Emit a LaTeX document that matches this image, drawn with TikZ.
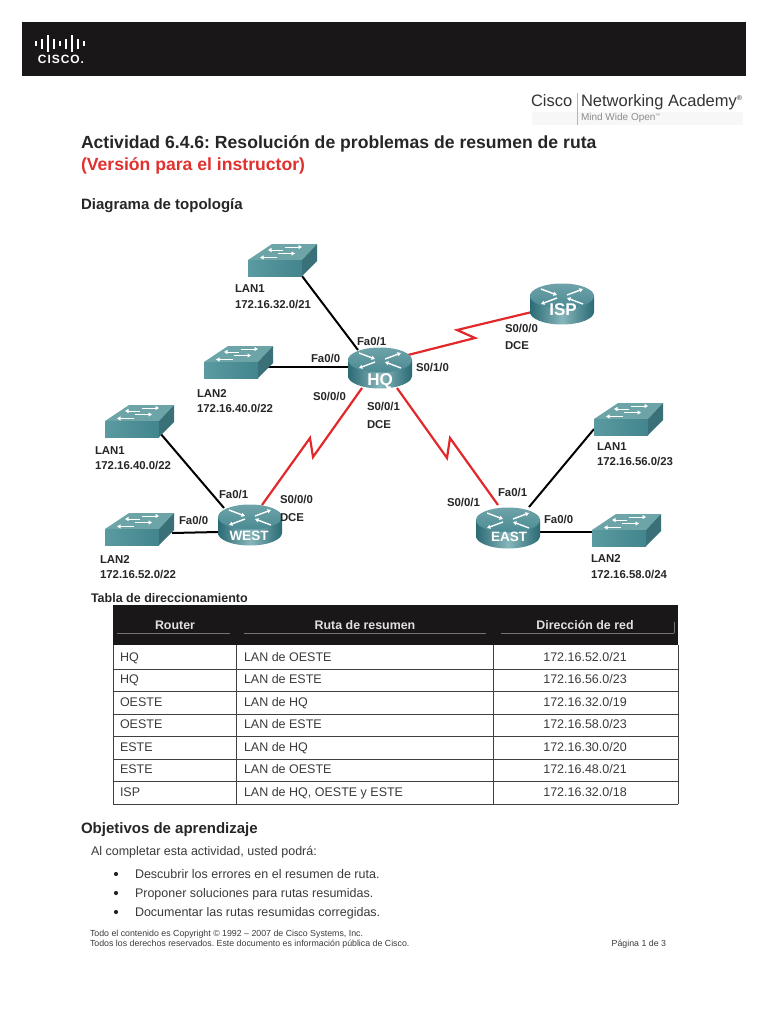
\documentclass[tikz,border=0pt]{standalone}
\usepackage{fontspec}
\setmainfont{Liberation Sans}
\frenchspacing
\usetikzlibrary{arrows.meta,backgrounds,calc}
\definecolor{ink}{HTML}{262626}
\definecolor{body}{HTML}{3A3A3A}
\definecolor{cbar}{HTML}{1A1718}
\definecolor{redlink}{HTML}{E2282B}
\definecolor{redtxt}{HTML}{E0312F}
\definecolor{rdark}{HTML}{2B6A75}
\definecolor{rlight}{HTML}{86B6BA}
\definecolor{rtop}{HTML}{6FA3A9}
\definecolor{rtopd}{HTML}{4A8A93}
\definecolor{stop}{HTML}{6DA4A8}
\definecolor{sfront}{HTML}{5A9AA0}
\definecolor{sfrontd}{HTML}{43858D}
\definecolor{sside}{HTML}{3A7178}
\tikzset{
  txt/.style={anchor=base west,inner sep=0pt,outer sep=0pt,text=ink},
  h1/.style={txt,font=\fontsize{17.6}{19}\bfseries},
  h2/.style={txt,font=\fontsize{15}{17}\bfseries},
  lab/.style={txt,font=\fontsize{11.4}{13}\bfseries},
  tb/.style={txt,text=body,font=\fontsize{12.5}{14}\selectfont},
  tbc/.style={tb,anchor=base},
  th/.style={anchor=base,inner sep=0pt,text=black!12,font=\fontsize{12.4}{14}\bfseries},
  para/.style={txt,text=body,font=\fontsize{12.5}{14}\selectfont},
  foot/.style={txt,text=body,font=\fontsize{8.8}{10}\selectfont},
  rtxt/.style={anchor=center,inner sep=0pt,text=white,font=\fontsize{17}{18}\bfseries},
  rtxts/.style={rtxt,font=\fontsize{13.5}{15}\bfseries},
  devbox/.style={inner sep=0pt,minimum width=60pt,minimum height=30pt},
  wire/.style={draw=black,line width=2pt},
  serial/.style={draw=redlink,line width=2.2pt,line join=miter},
  gridl/.style={draw=black!75,line width=0.8pt},
  arr/.style={draw=white,line width=1.4pt,-{Triangle[length=3.5pt,width=4pt]}},
  pics/router/.style={code={
    \path[left color=rdark,right color=rdark,middle color=rlight]
      (-32,0) -- (-32,16) arc[start angle=180,end angle=360,x radius=32pt,y radius=12.5pt] -- (32,0) -- cycle;
    \path[top color=rtop,bottom color=rtopd] (0,0) ellipse [x radius=32pt,y radius=12.5pt];
    \draw[arr] (-21,-7) -- (-5,-1);
    \draw[arr] (-5,2) -- (-21,8);
    \draw[arr] (5,-1) -- (21,-7);
    \draw[arr] (21,8) -- (5,2);
  }},
  pics/lanswitch/.style={code={
    \fill[stop] (0,0) -- (54,0) -- (69,-16) -- (24,-16) -- cycle;
    \path[left color=sfront,right color=sfrontd] (0,0) rectangle (54,16);
    \fill[sside] (54,0) -- (69,-16) -- (69,1) -- (54,16) -- cycle;
    \draw[arr,line width=1pt] (37,-13) -- (54,-13);
    \draw[arr,line width=1pt] (35,-10) -- (20,-10);
    \draw[arr,line width=1pt] (30,-6.5) -- (47,-6.5);
    \draw[arr,line width=1pt] (29,-2.5) -- (12,-2.5);
  }}
}
\begin{document}
\begin{tikzpicture}[x=1pt,y=-1pt]
\useasboundingbox (0,0) rectangle (768,1024);

% header
\fill[cbar] (22,22) rectangle (746,76);
\foreach \bx/\bh in {36/5,42/10,48/17,54/10,60/5,66/10,72/17,78/10,84/5}
  \draw[white,line width=1.5pt] (\bx,44-\bh/2) -- (\bx,44+\bh/2);
\node (ciscoword) [anchor=base,inner sep=0pt,text=white,font=\fontsize{12}{13}\bfseries] at (61,64) {\addfontfeature{LetterSpace=8}CISCO.};

% academy logo
\fill[black!3] (532,112) rectangle (743,125);
\draw[black!30,line width=0.6pt] (577,93) -- (577,125);
\node (acadA) [txt,text=black!80,font=\fontsize{16.5}{18}\selectfont] at (531,107) {Cisco};
\node (acadB) [txt,text=black!80,font=\fontsize{16.5}{18}\selectfont] at (581,107) {Networking Academy\textsuperscript{\fontsize{7}{8}\selectfont ®}};
\node (acadC) [txt,text=black!45,font=\fontsize{10}{11}\selectfont] at (581,121) {Mind Wide Open\textsuperscript{\fontsize{5}{6}\selectfont ™}};

% headings
\node (title) [h1] at (81,149) {Actividad 6.4.6: Resolución de problemas de resumen de ruta};
\node (subtitle) [h1,text=redtxt] at (81,171) {(Versión para el instructor)};
\node (topo) [h2] at (81,210) {Diagrama de topología};

% devices
\pic at (380,360) {router};
\pic at (562,296) {router};
\pic at (250,517) {router};
\pic at (508,520) {router};
\node (HQ) [rtxt] at (380,381) {HQ};
\node (ISP) [rtxt] at (563,310) {ISP};
\node (WEST) [rtxts] at (249,536) {WEST};
\node (EAST) [rtxts] at (509,537) {EAST};
\pic at (248,260) {lanswitch};
\pic at (204,362) {lanswitch};
\pic at (105,421) {lanswitch};
\pic at (105,529) {lanswitch};
\pic at (594,419) {lanswitch};
\pic at (592,530) {lanswitch};
\node (swHa) [devbox] at (282,261) {};
\node (swHb) [devbox] at (238,354) {};
\node (swWa) [devbox] at (140,413) {};
\node (swWb) [devbox] at (140,521) {};
\node (swEa) [devbox] at (628,411) {};
\node (swEb) [devbox] at (626,522) {};

% ports (named free ends of the connectors)
\coordinate (HQnw) at ($(HQ)+(-22,-31)$);
\coordinate (HQw)  at ($(HQ)+(-30,-14)$);
\coordinate (HQe)  at ($(HQ)+(28,-26)$);
\coordinate (HQsw) at ($(HQ)+(-18,7)$);
\coordinate (HQse) at ($(HQ)+(17,7)$);
\coordinate (ISPw) at ($(ISP)+(-31,2)$);
\coordinate (WESTne) at ($(WEST)+(13,-31)$);
\coordinate (WESTnw) at ($(WEST)+(-25,-28)$);
\coordinate (WESTw) at ($(WEST)+(-31,-4)$);
\coordinate (EASTnw) at ($(EAST)+(-11,-32)$);
\coordinate (EASTne) at ($(EAST)+(20,-30)$);
\coordinate (EASTe) at ($(EAST)+(31,-5)$);
\coordinate (swHaP) at ($(swHa)+(20,15)$);
\coordinate (swHbP) at ($(swHb)+(29,13)$);
\coordinate (swWaP) at ($(swWa)+(20,20)$);
\coordinate (swWbP) at ($(swWb)+(32,12)$);
\coordinate (swEaP) at ($(swEa)+(-34,18)$);
\coordinate (swEbP) at ($(swEb)+(-34,10)$);

\begin{scope}[on background layer]
\draw[wire] (swHaP) -- (HQnw);
\draw[wire] (swHbP) -- (HQw);
\draw[wire] (swWaP) -- (WESTnw);
\draw[wire] (swWbP) -- (WESTw);
\draw[wire] (swEaP) -- (EASTne);
\draw[wire] (swEbP) -- (EASTe);
\draw[serial] (HQe) -- (475,338) -- (457,330) -- (ISPw);
\draw[serial] (HQsw) -- (313,457) -- (310,438) -- (WESTne);
\draw[serial] (HQse) -- (447,458) -- (450,438) -- (EASTnw);
\end{scope}

% labels
\node (l1) [lab] at (235,292) {LAN1};
\node (l2) [lab] at (235,308) {172.16.32.0/21};
\node (l3) [lab] at (357,345) {Fa0/1};
\node (l4) [lab] at (311,362) {Fa0/0};
\node (l5) [lab] at (416,371) {S0/1/0};
\node (l6) [lab] at (505,332) {S0/0/0};
\node (l7) [lab] at (505,349) {DCE};
\node (l8) [lab] at (197,397) {LAN2};
\node (l9) [lab] at (197,412) {172.16.40.0/22};
\node (l10) [lab] at (313,400) {S0/0/0};
\node (l11) [lab] at (367,410) {S0/0/1};
\node (l12) [lab] at (367,428) {DCE};
\node (l13) [lab] at (95,454) {LAN1};
\node (l14) [lab] at (95,469) {172.16.40.0/22};
\node (l15) [lab] at (219,498) {Fa0/1};
\node (l16) [lab] at (280,503) {S0/0/0};
\node (l17) [lab] at (280,521) {DCE};
\node (l18) [lab] at (179,524) {Fa0/0};
\node (l19) [lab] at (100,563) {LAN2};
\node (l20) [lab] at (100,578) {172.16.52.0/22};
\node (l21) [lab] at (447,506) {S0/0/1};
\node (l22) [lab] at (498,496) {Fa0/1};
\node (l23) [lab] at (544,523) {Fa0/0};
\node (l24) [lab] at (597,450) {LAN1};
\node (l25) [lab] at (597,465) {172.16.56.0/23};
\node (l26) [lab] at (591,562) {LAN2};
\node (l27) [lab] at (591,578) {172.16.58.0/24};

% table
\node (tabhead) [txt,font=\fontsize{12.5}{14}\bfseries] at (91,602) {Tabla de direccionamiento};
\fill[cbar] (113,605) rectangle (678,645);
\foreach \ux/\uy in {117/230,244/486,501/674}
  \draw[black!55,line width=1pt] (\ux,633) -- (\uy,633);
\draw[black!55,line width=0.8pt] (674,633) -- (674,622);
\node (th1) [th] at (175,629) {Router};
\node (th2) [th] at (365,629) {Ruta de resumen};
\node (th3) [th] at (585,629) {Dirección de red};
\foreach \ly in {669,691,714,736,759,781,804}
  \draw[gridl] (113,\ly) -- (678,\ly);
\foreach \lx in {113,236,493,678}
  \draw[gridl] (\lx,645) -- (\lx,804);
\node (a1) [tb] at (120,661) {HQ};
\node (b1) [tb] at (244,661) {LAN de OESTE};
\node (c1) [tbc] at (585,661) {172.16.52.0/21};
\node (a2) [tb] at (120,683) {HQ};
\node (b2) [tb] at (244,683) {LAN de ESTE};
\node (c2) [tbc] at (585,683) {172.16.56.0/23};
\node (a3) [tb] at (120,706) {OESTE};
\node (b3) [tb] at (244,706) {LAN de HQ};
\node (c3) [tbc] at (585,706) {172.16.32.0/19};
\node (a4) [tb] at (120,728) {OESTE};
\node (b4) [tb] at (244,728) {LAN de ESTE};
\node (c4) [tbc] at (585,728) {172.16.58.0/23};
\node (a5) [tb] at (120,751) {ESTE};
\node (b5) [tb] at (244,751) {LAN de HQ};
\node (c5) [tbc] at (585,751) {172.16.30.0/20};
\node (a6) [tb] at (120,773) {ESTE};
\node (b6) [tb] at (244,773) {LAN de OESTE};
\node (c6) [tbc] at (585,773) {172.16.48.0/21};
\node (a7) [tb] at (120,796) {ISP};
\node (b7) [tb] at (244,796) {LAN de HQ, OESTE y ESTE};
\node (c7) [tbc] at (585,796) {172.16.32.0/18};

% objectives
\node (obj) [h2] at (81,833) {Objetivos de aprendizaje};
\node (intro) [para] at (91,855) {Al completar esta actividad, usted podrá:};
\foreach \by in {874,893,912} \fill[black!85] (116,\by) circle [radius=2.1pt];
\node (p1) [para] at (135,878) {Descubrir los errores en el resumen de ruta.};
\node (p2) [para] at (135,897) {Proponer soluciones para rutas resumidas.};
\node (p3) [para] at (135,916) {Documentar las rutas resumidas corregidas.};
\node (f1) [foot] at (90,936) {Todo el contenido es Copyright © 1992 – 2007 de Cisco Systems, Inc.};
\node (f2) [foot] at (90,946) {Todos los derechos reservados. Este documento es información pública de Cisco.};
\node (f3) [foot,anchor=base east] at (666,946) {Página 1 de 3};
\end{tikzpicture}
\end{document}
